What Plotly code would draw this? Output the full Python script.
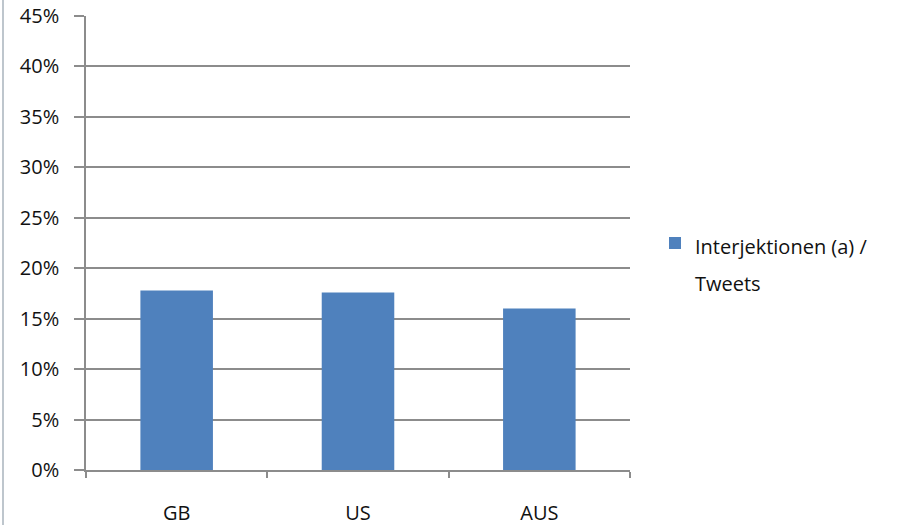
import plotly.graph_objects as go

categories = ["GB", "US", "AUS"]
values = [0.178, 0.176, 0.160]
series_lines = ["Interjektionen (a) /", "Tweets"]

W, H = 901, 525
L, R, T, B = 86, 271, 16, 55
pw, ph = W - L - R, H - T - B

def px_x(x):
    return (x - L) / pw

def px_y(y):
    return (H - B - y) / ph

text_size = 20
series_name = "<br>".join(
    f'<span style="font-size:{text_size}px">{s}</span>' for s in series_lines
)

fig = go.Figure()
fig.add_trace(go.Bar(
    x=categories, y=values, name=series_name,
    marker=dict(color="#4F81BD", line=dict(width=0)),
    showlegend=True,
))

font_family = "Open Sans, Noto Sans, sans-serif"
fig.update_layout(
    width=W, height=H,
    margin=dict(l=L, r=R, t=T, b=B, pad=0, autoexpand=False),
    paper_bgcolor="white", plot_bgcolor="white",
    bargap=0.6,
    font=dict(family=font_family, size=text_size, color="#111111"),
    showlegend=True,
    legend=dict(
        x=px_x(655), y=px_y(262), xanchor="left", yanchor="middle",
        font=dict(family=font_family, size=28.5, color="#111111"),
        bgcolor="rgba(0,0,0,0)", itemsizing="constant", valign="top",
    ),
    xaxis=dict(
        automargin=False,
        showgrid=False, showline=True, linecolor="#8c8c8c", linewidth=1.5,
        ticks="outside", tickson="boundaries", ticklen=6, tickcolor="#8c8c8c",
        tickwidth=1.5, tickfont=dict(size=text_size), ticklabelstandoff=24,
    ),
    yaxis=dict(
        automargin=False,
        range=[0, 0.45], dtick=0.05, tickformat=".0%",
        showgrid=True, gridcolor="#8c8c8c", gridwidth=1.5,
        showline=True, linecolor="#8c8c8c", linewidth=1.5,
        ticks="outside", ticklen=10, tickcolor="#8c8c8c", tickwidth=1.5,
        tickfont=dict(size=text_size), zeroline=False, ticklabelstandoff=11,
    ),
    shapes=[dict(
        type="line", xref="paper", yref="paper",
        x0=px_x(3), x1=px_x(3), y0=px_y(0), y1=px_y(H),
        line=dict(color="#a9b3bd", width=1.5),
    )],
)

fig.write_html("out.html")
